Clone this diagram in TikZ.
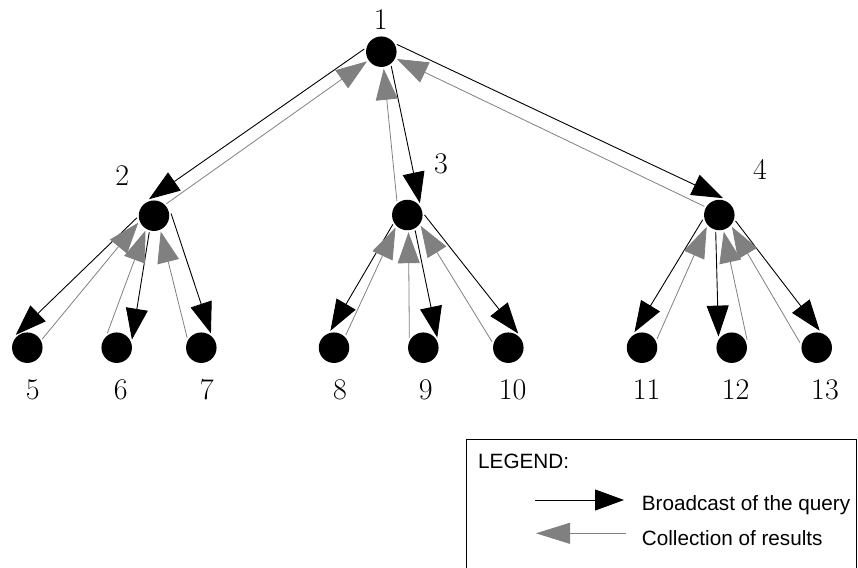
\documentclass[tikz,border=0pt]{standalone}
\usepackage{fontspec}
\newfontfamily\legendfont{Liberation Sans}
\usetikzlibrary{arrows.meta}
\definecolor{resgray}{HTML}{808080}
\begin{document}
\begin{tikzpicture}[x=1pt,y=-1pt,
  dot/.style={circle,fill=black,minimum size=30.5pt,inner sep=0pt,outer sep=2pt},
  lbl/.style={inner sep=0pt,font=\fontsize{30}{36}\selectfont},
  qry/.style={draw=black,line width=0.9pt,-{Triangle[length=31pt,width=22pt]}},
  res/.style={draw=resgray,line width=0.8pt,-{Triangle[length=31pt,width=22pt,fill=resgray]}},
  legtxt/.style={inner sep=0pt,anchor=base west,font=\legendfont\fontsize{20.7}{24}\selectfont}]
\useasboundingbox (0,0) rectangle (858,567);
\clip (0,0) rectangle (858,567);

% tree nodes
\node[dot] (n1) at (381.3,51.7) {};
\node[dot] (n2) at (154,215.7) {};
\node[dot] (n3) at (407.3,215) {};
\node[dot] (n4) at (719.3,215) {};
\node[dot] (n5) at (27.3,347.7) {};
\node[dot] (n6) at (116.7,347.7) {};
\node[dot] (n7) at (201.3,347.7) {};
\node[dot] (n8) at (334,347.7) {};
\node[dot] (n9) at (423.3,347.7) {};
\node[dot] (n10) at (508.3,347.7) {};
\node[dot] (n11) at (642,347.7) {};
\node[dot] (n12) at (731.7,347.7) {};
\node[dot] (n13) at (816.7,347.7) {};

% node numbers
\node[lbl] (l1) at (380.7,19.7) {1};
\node[lbl] (l2) at (122.3,175.5) {2};
\node[lbl] (l3) at (441,164) {3};
\node[lbl] (l4) at (760,169) {4};
\node[lbl] (l5) at (32.7,390) {5};
\node[lbl] (l6) at (120.7,390) {6};
\node[lbl] (l7) at (206.7,390) {7};
\node[lbl] (l8) at (340,390) {8};
\node[lbl] (l9) at (425.7,390) {9};
\node[lbl] (l10) at (512.7,390) {10};
\node[lbl] (l11) at (646.7,390) {11};
\node[lbl] (l12) at (735.7,390) {12};
\node[lbl] (l13) at (825,390) {13};

% broadcast of the query (parent to child)
\draw[qry] (n1.171) -- (n2.107);
\draw[qry] (n1.305) -- (n3.43);
\draw[qry] (n1.25) -- (n4.78);
\draw[qry] (n2.187) -- (n5.132);
\draw[qry] (n2.254) -- (n6.28);
\draw[qry] (n2.7) -- (n7.56);
\draw[qry] (n3.213) -- (n8.102);
\draw[qry] (n3.297) -- (n9.36);
\draw[qry] (n3.0) -- (n10.55);
\draw[qry] (n4.196) -- (n11.116);
\draw[qry] (n4.258) -- (n12.140);
\draw[qry] (n4.340) -- (n13.80);

% collection of results (child to parent)
\draw[res] (n2.44) -- (n1.214);
\draw[res] (n3.127) -- (n1.278);
\draw[res] (n4.150) -- (n1.335);
\draw[res] (n5.30) -- (n2.204);
\draw[res] (n6.123) -- (n2.240);
\draw[res] (n7.145) -- (n2.293);
\draw[res] (n8.47) -- (n3.227);
\draw[res] (n9.144) -- (n3.274);
\draw[res] (n10.160) -- (n3.321);
\draw[res] (n11.30) -- (n4.223);
\draw[res] (n12.27) -- (n4.285);
\draw[res] (n13.164) -- (n4.317);

% legend
\draw[line width=0.8pt] (466,439) rectangle (856,600);
\node[legtxt] (legt) at (478,468.3) {LEGEND:};
\coordinate (qa) at (535,500);
\coordinate (qb) at (624,500);
\coordinate (ra) at (626,533.3);
\coordinate (rb) at (536,533.3);
\draw[draw=black,line width=0.9pt,-{Triangle[length=29pt,width=21pt]}] (qa) -- (qb);
\draw[draw=resgray,line width=0.8pt,-{Triangle[length=34pt,width=21pt,fill=resgray]}] (ra) -- (rb);
\node[legtxt] (legq) at (641.7,510.7) {Broadcast of the query};
\node[legtxt] (legr) at (641.7,545) {Collection of results};
\end{tikzpicture}
\end{document}
